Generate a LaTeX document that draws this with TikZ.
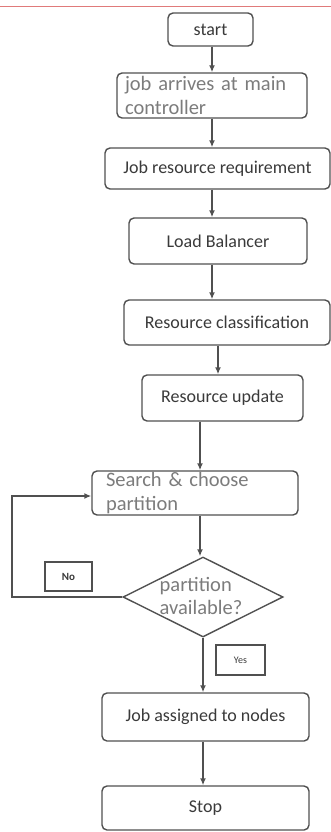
\documentclass[tikz,border=0pt]{standalone}
\usepackage{fontspec}
\setmainfont{Carlito}
\newfontfamily\tightfam{Carlito}[WordSpace=0.6]
\usetikzlibrary{arrows.meta,shapes.geometric}
\definecolor{linegray}{HTML}{505050}
\definecolor{darktext}{HTML}{3A3A3A}
\definecolor{lighttext}{HTML}{7C7C7C}
\definecolor{toprule}{HTML}{E07A7A}
\newcommand\tightwords{\tightfam\fontsize{20.5}{23.5}\selectfont}
\tikzset{
  box/.style={draw=linegray, line width=1.4pt, rounded corners=5pt, fill=white,
    inner sep=0pt, text=darktext, font=\fontsize{18}{21}\selectfont},
  bigbox/.style={box, align=left, inner xsep=#1, text=lighttext,
    font=\tightwords},
  tag/.style={draw=linegray, line width=1.3pt, inner sep=0pt, text=darktext},
  decision/.style={draw=linegray, line width=1.4pt, diamond, aspect=2,
    minimum width=160pt, minimum height=80pt, inner sep=0pt},
  arr/.style={draw=linegray, line width=1.4pt, -{Latex[length=7pt,width=6pt]}},
}
\begin{document}
\begin{tikzpicture}[x=1pt,y=-1pt]
\useasboundingbox (0,0) rectangle (331,832);
\fill[white] (0,0) rectangle (331,832);
\draw[toprule, line width=1pt] (0,7) -- (331,7);

\node[box, minimum width=85pt, minimum height=33pt] (start) at (210.5,29.5) {start};
\node[bigbox=8pt, minimum width=190pt, minimum height=45pt, text width=174pt] (job) at (212,95.5) {job arrives at main\\controller};
\node[box, minimum width=225pt, minimum height=41pt] (jrr) at (217.5,168.5) {Job resource requirement};
\node[box, minimum width=178pt, minimum height=46pt] (lb) at (218,241) {Load Balancer};
\node[box, minimum width=206pt, minimum height=45pt] (rc) at (227,322.5) {Resource classification};
\node[box, minimum width=161pt, minimum height=46pt] (ru) at (222.5,398) {Resource update};
\node[bigbox=14pt, minimum width=206pt, minimum height=44pt, text width=178pt] (search) at (195,493) {Search \& choose\\partition};
\node[decision] (dec) at (203,597) {};
\node[text=lighttext, align=left, inner sep=0pt, font=\tightwords] (dectext) at (201,596) {partition\\available?};
\node[tag, minimum width=47pt, minimum height=29pt, font=\fontsize{11}{13}\selectfont\bfseries] (no) at (68.5,576.5) {No};
\node[tag, minimum width=49pt, minimum height=30pt, font=\fontsize{10}{12}\selectfont] (yes) at (240.5,660) {Yes};
\node[box, minimum width=207pt, minimum height=48pt] (ja) at (205.5,717) {Job assigned to nodes};
\node[box, minimum width=207pt, minimum height=44pt] (stop) at (205.5,808) {Stop};

\draw[arr] (212,0 |- start.south) -- (212,0 |- job.north);
\draw[arr] (212,0 |- job.south) -- (212,0 |- jrr.north);
\draw[arr] (212,0 |- jrr.south) -- (212,0 |- lb.north);
\draw[arr] (212,0 |- lb.south) -- (212,0 |- rc.north);
\draw[arr] (218,0 |- rc.south) -- (218,0 |- ru.north);
\draw[arr] (200,0 |- ru.south) -- (200,0 |- search.north);
\draw[arr] (200,0 |- search.south) -- (200,0 |- dec.north);
\draw[arr] (dec.west) -- (12,0 |- dec.west) -- (12,496) -- (search.west |- 0,496);
\draw[arr] (203,0 |- dec.south) -- (203,0 |- ja.north);
\draw[arr] (203,0 |- ja.south) -- (203,0 |- stop.north);
\end{tikzpicture}
\end{document}
